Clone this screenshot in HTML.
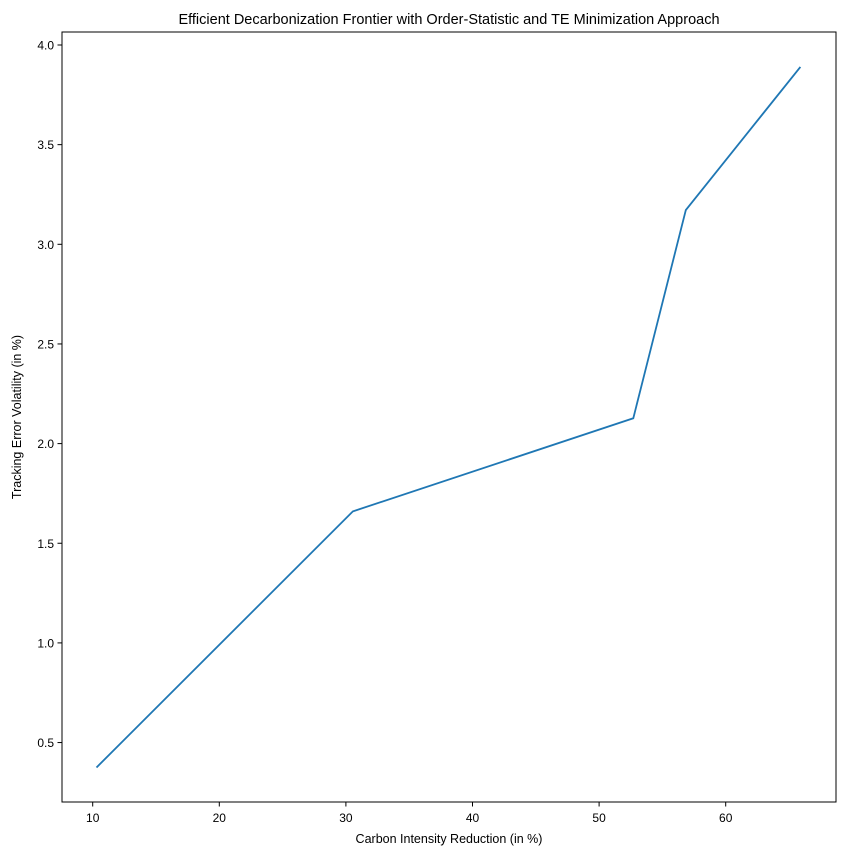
<!DOCTYPE html>
<html><head><meta charset="utf-8"><style>
body{margin:0;background:#fff;}
svg text{font-family:"Liberation Sans","DejaVu Sans",sans-serif;fill:#000;}
</style></head><body>
<svg id="chart" width="846" height="855" xmlns="http://www.w3.org/2000/svg">
<rect width="846" height="855" fill="#fff"/>
<text x="449" y="24" font-size="14.5" text-anchor="middle">Efficient Decarbonization Frontier with Order-Statistic and TE Minimization Approach</text>
<g id="xticks"></g><g id="yticks"></g>
<polyline id="line" fill="none" stroke="#1f77b4" stroke-width="1.8"/>
<rect x="62" y="32" width="774" height="770" fill="none" stroke="#000" stroke-width="1"/>
<text x="449" y="843" font-size="12.5" text-anchor="middle">Carbon Intensity Reduction (in %)</text>
<text transform="translate(21,417) rotate(-90)" font-size="12.5" text-anchor="middle">Tracking Error Volatility (in %)</text>
</svg>
<script>
const xValues=[10.3,30.55,52.7,56.85,65.9];
const yValues=[0.375,1.66,2.127,3.172,3.89];
const xTicks=[10,20,30,40,50,60];
const yTicks=[0.5,1.0,1.5,2.0,2.5,3.0,3.5,4.0];
const ns="http://www.w3.org/2000/svg";
function xs(v){return 92.7+(v-10)*12.66;}
function ys(v){return 45+(4-v)*199.3;}
const line=document.getElementById('line');
line.setAttribute('points',xValues.map((x,i)=>xs(x)+','+ys(yValues[i])).join(' '));
const gx=document.getElementById('xticks');
xTicks.forEach(t=>{
 const l=document.createElementNS(ns,'line');
 
 
 l.setAttribute('x1',xs(t));l.setAttribute('x2',xs(t));l.setAttribute('y1',802);l.setAttribute('y2',806.5);l.setAttribute('stroke','#000');
 gx.appendChild(l);
 const tx=document.createElementNS(ns,'text');
 
 
 tx.setAttribute('x',xs(t));tx.setAttribute('y',822);tx.setAttribute('font-size','12');tx.setAttribute('text-anchor','middle');
 tx.textContent=t;gx.appendChild(tx);
});
const gy=document.getElementById('yticks');
yTicks.forEach(t=>{
 const l=document.createElementNS(ns,'line');
 
 
 l.setAttribute('x1',57.5);l.setAttribute('x2',62);l.setAttribute('y1',ys(t));l.setAttribute('y2',ys(t));l.setAttribute('stroke','#000');
 gy.appendChild(l);
 const tx=document.createElementNS(ns,'text');
 
 
 tx.setAttribute('x',54);tx.setAttribute('y',ys(t)+4.5);tx.setAttribute('font-size','12');tx.setAttribute('text-anchor','end');
 tx.textContent=t.toFixed(1);gy.appendChild(tx);
});
</script>
</body></html>
